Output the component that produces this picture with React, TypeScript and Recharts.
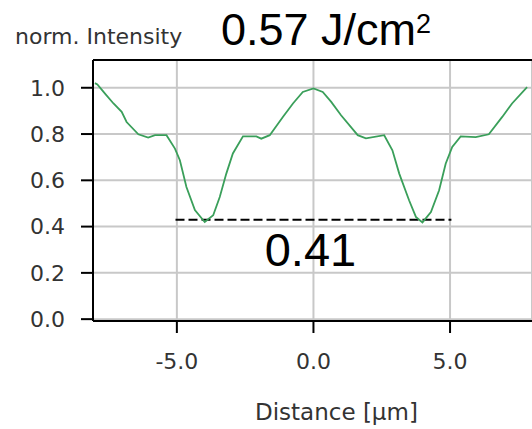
import React from "react";
import {
  LineChart,
  Line,
  XAxis,
  YAxis,
  CartesianGrid,
  ReferenceLine,
} from "recharts";

const distance = [
  -8.0, -7.91, -7.63, -7.32, -7.02, -6.84, -6.41, -6.05, -5.8, -5.38, -5.07,
  -4.89, -4.65, -4.34, -3.98, -3.67, -3.43, -3.19, -2.95, -2.58, -2.09, -1.91,
  -1.6, -1.12, -0.75, -0.39, 0, 0.34, 0.65, 1.01, 1.62, 1.92, 2.59, 2.89, 3.14,
  3.5, 3.75, 3.99, 4.3, 4.6, 4.84, 5.08, 5.39, 5.94, 6.42, 6.91, 7.27, 7.82,
];
const intensity = [
  1.02, 1.014, 0.975, 0.932, 0.896, 0.852, 0.799, 0.785, 0.795, 0.795, 0.737,
  0.687, 0.571, 0.471, 0.42, 0.449, 0.528, 0.629, 0.716, 0.79, 0.79, 0.78,
  0.795, 0.874, 0.932, 0.982, 0.997, 0.982, 0.939, 0.881, 0.795, 0.781, 0.795,
  0.73, 0.629, 0.514, 0.442, 0.418, 0.463, 0.557, 0.672, 0.744, 0.79, 0.787,
  0.799, 0.874, 0.932, 1.003,
];
const xTicks = [-5, 0, 5];
const yTicks = [0, 0.2, 0.4, 0.6, 0.8, 1.0];
const minLevel = 0.43;
const minLabel = "0.41";
const fluence = "0.57 J/cm";

const data = distance.map((d, i) => ({ d, v: intensity[i] }));

const tickFont = { fontSize: 22, fontFamily: "DejaVu Sans", fill: "#333" };

const App = () => {
  return (
    <div style={{ position: "absolute", left: 0, top: 0, width: 532, height: 429 }}>
      <LineChart
        width={532}
        height={429}
        data={data}
        margin={{ top: 60, right: 0, left: 0, bottom: 0 }}
      >
        <CartesianGrid stroke="#c8c8c8" strokeWidth={2} />
        <XAxis
          dataKey="d"
          type="number"
          domain={[-8.07, 8.0]}
          ticks={xTicks}
          tickFormatter={(v) => v.toFixed(1)}
          height={108}
          tickSize={12}
          tickMargin={20}
          tick={tickFont}
          stroke="#000"
          strokeWidth={2}
          allowDataOverflow
        />
        <YAxis
          type="number"
          domain={[-0.008, 1.12]}
          ticks={yTicks}
          tickFormatter={(v) => v.toFixed(1)}
          width={93}
          tickSize={12}
          tickMargin={16}
          tick={tickFont}
          stroke="#000"
          strokeWidth={2}
          allowDataOverflow
        />
        <ReferenceLine y={1.12} stroke="#000" strokeWidth={2} ifOverflow="visible" />
        <ReferenceLine
          segment={[
            { x: -5.05, y: minLevel },
            { x: 5.05, y: minLevel },
          ]}
          stroke="#000"
          strokeWidth={2}
          strokeDasharray="9 4"
          label={{
            value: minLabel,
            position: "bottom",
            offset: 13,
            fontSize: 47,
            fontFamily: "Liberation Sans, Arial",
            fill: "#000",
            dx: -3,
          }}
        />
        <Line
          dataKey="v"
          type="linear"
          stroke="#3a9f5a"
          strokeWidth={1.8}
          dot={false}
          isAnimationActive={false}
        />
      </LineChart>
      <svg
        width={532}
        height={429}
        style={{ position: "absolute", left: 0, top: 0, pointerEvents: "none" }}
      >
        <text x={15} y={44} fontSize={22} fontFamily="DejaVu Sans" fill="#333">
          norm. Intensity
        </text>
        <text x={221} y={45} fontSize={45} fontFamily="Liberation Sans, Arial" fill="#000">
          {fluence}
          <tspan fontSize={27} dy={-12}>2</tspan>
        </text>
        <text x={255} y={420} fontSize={23} fontFamily="DejaVu Sans" fill="#333">
          Distance [µm]
        </text>
      </svg>
    </div>
  );
};

export default App;
